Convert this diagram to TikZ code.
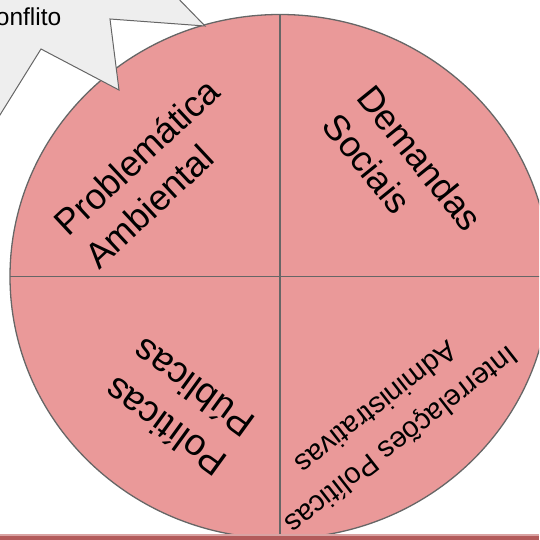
\documentclass[tikz,border=0pt]{standalone}
\usepackage{fontspec}
\setmainfont{Liberation Sans}
\definecolor{wedgered}{HTML}{EA9999}
\definecolor{rimgray}{HTML}{666666}
\definecolor{burstgray}{HTML}{EEEEEE}
\definecolor{barlight}{HTML}{D9A3A3}
\definecolor{bardark}{HTML}{B35B5B}
\begin{document}
\begin{tikzpicture}[x=1pt,y=-1pt,
  rim/.style={draw=rimgray,line width=1.3pt},
  wedgetext/.style={inner sep=0pt,align=left}]
\useasboundingbox (0,0) rectangle (539,540);
\clip (0,0) rectangle (539,540);
% the disc and its four parts
\filldraw [rim,fill=wedgered] (280,276.5) ellipse [x radius=270,y radius=262];
\draw [rim] (280,14.5) -- (280,538.5);
\draw [rim] (10,276.5) -- (550,276.5);
\node [wedgetext,rotate=43,font=\fontsize{36}{44.6}\selectfont] (problema) at (152,173) {Problemática\\Ambiental};
\node [wedgetext,rotate=-51,font=\fontsize{36}{44.5}\selectfont] (demandas) at (403,172) {Demandas\\Sociais};
\node [wedgetext,rotate=144,font=\fontsize{37}{48}\selectfont] (politicas) at (179,408) {Políticas\\Públicas};
\node [wedgetext,align=center,rotate=218,font=\fontsize{29}{41}\selectfont] (interrel) at (389.5,424.5) {Interrelações Políticas\\Administrativas};
% callout in the corner
\filldraw [draw=rimgray,line width=1pt,fill=burstgray,line join=miter] (170,-10) -- (205,26) -- (110,19) -- (119,90) -- (41,49) -- (-10,131) -- (-40,-40) -- cycle;
\node [inner sep=0pt,anchor=base east,font=\fontsize{24.5}{28}\selectfont] (conflito) at (61.5,26) {Conflito};
% bar along the bottom
\fill [barlight] (0,533.5) rectangle (539,535.5);
\fill [bardark] (0,535.5) rectangle (539,540);
\end{tikzpicture}
\end{document}
